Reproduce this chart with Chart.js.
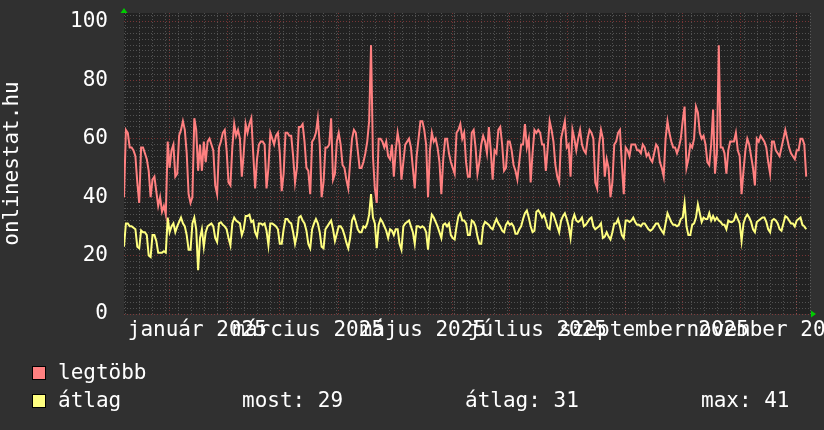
<!DOCTYPE html>
<html>
<head>
<meta charset="utf-8">
<script src="https://cdn.jsdelivr.net/npm/chart.js@4/dist/chart.umd.min.js"></script>
<style>
html,body{margin:0;padding:0;background:#303030;}
#wrap{width:824px;height:430px;position:relative;}
</style>
</head>
<body>
<div id="wrap"><canvas id="c" width="824" height="430"></canvas></div>
<script>
// ---- data (daily samples, Dec 2024 – Dec 2025) ----
const legtobb = [
40,63,62,57,57,56,54,45,38,57,57,55,53,49,40,46,47,42,37,40,35,37,34,59,50,56,58,47,48,61,
63,66,63,55,41,38,40,67,63,49,58,49,59,52,59,60,58,56,44,41,57,59,62,63,56,45,44,57,65,61,
63,60,47,55,65,62,65,67,55,43,53,58,59,59,58,43,50,62,60,58,61,62,55,42,48,62,62,61,61,54,
45,50,64,64,65,59,50,49,41,59,60,62,67,58,40,45,57,57,58,67,46,48,59,62,58,51,50,46,43,52,
60,63,62,56,50,50,52,55,59,66,92,54,43,38,60,60,59,57,59,54,53,58,47,56,62,58,46,52,58,59,
60,57,50,43,54,60,66,66,63,58,40,56,62,59,60,57,52,41,53,60,60,55,52,50,48,62,63,65,60,62,
52,47,47,62,63,57,48,52,58,61,59,55,64,56,46,56,55,63,64,58,49,50,59,59,56,51,49,46,52,58,
58,65,57,60,45,55,63,62,63,62,58,58,49,57,66,63,59,51,47,45,60,63,66,57,58,47,63,60,56,60,
63,58,56,55,60,63,62,60,45,43,58,63,60,47,53,50,40,45,58,59,62,63,51,41,57,56,54,58,58,58,
56,56,55,58,57,54,55,53,52,55,58,57,52,50,47,60,66,62,59,57,57,55,57,60,66,71,50,53,58,57,
60,71,69,62,60,61,58,52,51,58,70,48,55,92,57,57,55,48,56,59,59,59,62,56,54,41,49,56,60,58,
54,50,44,60,59,61,60,59,57,52,48,59,59,56,55,54,57,60,63,60,57,55,54,53,56,56,60,60,58,47
];
const atlag = [
23,31,31,30,30,29.5,29,23,22.5,28.6,28,28,27,20,19.5,27,27,25,21,21,21,21.5,21,33,28,30,31,28,30,31.5,
33,31,30,27,22,22,31,33,29,15,26,29,23,28,30,30.5,31,30,26,24.6,31,31.4,30.5,30,29,26,23.5,31,33,32,
31.5,31,27,29,33.5,33.5,34,31.5,32,28,26.5,31,31,30.5,31,28.5,23.5,31,31,30.5,30,29,24,24,29,32.5,32.5,31.5,31,28,
24,27,33,33.5,32,31,28.5,24,22.5,29,31,32.5,31,28,23,22.5,29,30,31,32,29,25,27.5,30,30,29,27,24.5,22.5,26,
32,33.5,31.5,29,28,28,30,29.5,31,34,41,33,31,22.5,30.5,32.5,31.5,30,28.5,26,29,28.5,27,29,29,24,22,30,31,31.5,
32,30,28,24,30,30,29.5,30,29.5,28,22,30,34,33,31.5,30,28,26,30.5,31,30,31,27,26,25.5,30,33.5,34.5,32,32,
31,27,27,32,31.5,30,26.5,24,24,30,31.5,31,30.5,29.5,29,31,32.5,31,30,28.5,28,30.5,31.5,30.5,31,30,27.5,27.5,29,30,
32.5,34.5,35.4,33,30,28,28.5,35,35.5,34.5,33,34,32,29.5,29,34.5,34,32,30,28,32,33.5,34.5,32.5,30,26,32,34,32,31.5,
32,33,30,30.5,31.5,32.5,33,30,29,29.5,30,31,26,26.5,28,26.5,25.5,28,31,31,32.5,30,27,26,32,32,31.5,32,33,31.5,
30.5,30.5,30,31,31,30,29,28.5,29,30,31,31,29.5,28.5,27.5,31,34.5,33,31.5,30.5,30.5,30,30.5,32.5,33,38,30,27,27,30.5,
31,33,37.5,34.5,31.5,33,32.5,32.5,34.5,32,33.5,32,33,32,31.5,30.5,30.5,29,32,31.5,31.5,32,34,32.5,31,25,31,33,34,33,
31.5,29,28,31.5,32,32.5,33,33,31.5,29,28,32,32.5,32,31,29,28.5,31,33.5,33,32,31,31,30,32,32.5,33,30.5,30,29
];
const seriesNames = ['legtöbb', 'átlag'];
const monthLabels = ['január 2025', 'március 2025', 'május 2025', 'július 2025', 'szeptember 2025', 'november 2025'];
const labelMonths = [0, 2, 4, 6, 8, 10];
const statLabels = ['most: 29', 'átlag: 31', 'max: 41'];
const yAxisTitle = 'onlinestat.hu';
const yMajorValues = [0, 20, 40, 60, 80, 100];

// ---- time helpers ----
const DAY = 86400000;
const startTime = Date.UTC(2024, 11, 8);
const endTime = Date.UTC(2025, 11, 8);
const spanDays = (endTime - startTime) / DAY;
const toDay = t => (t - startTime) / DAY;
const sampleStep = spanDays / 361;

const COLORS = {
  back: '#303030', canvas: '#222222', text: '#ffffff',
  red: '#ff8080', yellow: '#ffff80',
  grid: 'rgba(150,150,150,0.42)', mgrid: 'rgba(190,70,70,0.55)', arrow: '#00cc00'
};
const FONT = "'DejaVu Sans Mono', monospace";

// build x tick list: weekly (Monday) minor, monthly major, mid-month labels
const xTicks = [];
for (let d = 1; d <= spanDays; d += 7) xTicks.push({ value: d, kind: 'week', label: '' });
for (let m = 0; m < 12; m++) xTicks.push({ value: toDay(Date.UTC(2025, m, 1)), kind: 'month', label: '' });
labelMonths.forEach((m, i) => {
  xTicks.push({ value: toDay(Date.UTC(2025, m, 1)) + 15, kind: 'label', label: monthLabels[i] });
});
xTicks.sort((a, b) => a.value - b.value);

const yTicks = [];
for (let v = 0; v <= 102; v += 2) yTicks.push(v);

const toPoints = arr => arr.map((v, i) => ({ x: i * sampleStep, y: v }));

const bgPlugin = {
  id: 'bg',
  beforeDraw(chart) {
    const { ctx, chartArea: a } = chart;
    ctx.save();
    ctx.fillStyle = COLORS.back;
    ctx.fillRect(0, 0, chart.width, chart.height);
    ctx.fillStyle = COLORS.canvas;
    ctx.fillRect(a.left, a.top, a.right - a.left, a.bottom - a.top);
    ctx.restore();
  },
  afterDraw(chart) {
    const { ctx, chartArea: a } = chart;
    ctx.save();
    // arrows
    ctx.fillStyle = COLORS.arrow;
    ctx.beginPath();
    ctx.moveTo(a.left - 3.5, a.top);
    ctx.lineTo(a.left + 3.5, a.top);
    ctx.lineTo(a.left, a.top - 5);
    ctx.closePath(); ctx.fill();
    ctx.beginPath();
    ctx.moveTo(a.right + 1, a.bottom - 3.5);
    ctx.lineTo(a.right + 1, a.bottom + 3.5);
    ctx.lineTo(a.right + 6, a.bottom);
    ctx.closePath(); ctx.fill();
    // legend
    ctx.font = '21px ' + FONT;
    ctx.textBaseline = 'alphabetic';
    ctx.textAlign = 'left';
    const rows = [
      { name: seriesNames[0], color: COLORS.red, y: 366 },
      { name: seriesNames[1], color: COLORS.yellow, y: 394 }
    ];
    rows.forEach(r => {
      ctx.fillStyle = r.color;
      ctx.fillRect(32, r.y, 14, 14);
      ctx.strokeStyle = '#000';
      ctx.lineWidth = 1;
      ctx.strokeRect(32.5, r.y + 0.5, 13, 13);
      ctx.fillStyle = COLORS.text;
      ctx.fillText(r.name, 58, r.y + 13);
    });
    const statX = [242, 465, 701];
    statLabels.forEach((s, i) => ctx.fillText(s, statX[i], 394 + 13));
    ctx.restore();
  }
};

new Chart(document.getElementById('c'), {
  type: 'line',
  data: {
    datasets: [
      { label: seriesNames[0], data: toPoints(legtobb), borderColor: COLORS.red, borderWidth: 2, pointRadius: 0, tension: 0, fill: false },
      { label: seriesNames[1], data: toPoints(atlag), borderColor: COLORS.yellow, borderWidth: 2, pointRadius: 0, tension: 0, fill: false }
    ]
  },
  options: {
    responsive: false,
    animation: false,
    devicePixelRatio: 1,
    layout: { padding: { top: 13, right: 14, left: 0, bottom: 0 } },
    plugins: { legend: { display: false }, tooltip: { enabled: false } },
    scales: {
      x: {
        type: 'linear', min: 0, max: spanDays,
        afterBuildTicks: s => { s.ticks = xTicks.map(t => ({ value: t.value })); },
        afterFit: s => { s.height = 116; s.paddingLeft = 0; s.paddingRight = 0; },
        ticks: {
          autoSkip: false, maxRotation: 0, minRotation: 0, padding: 4,
          color: COLORS.text, font: { family: FONT, size: 21 },
          callback: (v, i) => xTicks[i] ? xTicks[i].label : ''
        },
        grid: {
          drawTicks: false,
          lineWidth: 1,
          color: c => {
            const t = xTicks[c.index];
            if (!t) return 'transparent';
            return t.kind === 'month' ? COLORS.mgrid : (t.kind === 'week' ? COLORS.grid : 'transparent');
          }
        },
        border: { display: false, dash: [1, 2] }
      },
      y: {
        type: 'linear', min: 0, max: 103,
        afterBuildTicks: s => { s.ticks = yTicks.map(v => ({ value: v })); },
        afterFit: s => { s.width = 124; s.paddingTop = 0; s.paddingBottom = 0; },
        ticks: {
          autoSkip: false, padding: 16,
          color: COLORS.text, font: { family: FONT, size: 21 },
          callback: v => (yMajorValues.includes(v) ? String(v) : '')
        },
        grid: {
          drawTicks: false,
          lineWidth: 1,
          color: c => (c.tick && c.tick.value % 20 === 0) ? COLORS.mgrid : COLORS.grid
        },
        border: { display: false, dash: [1, 2] },
        title: {
          display: true, text: yAxisTitle, color: COLORS.text,
          font: { family: FONT, size: 21 }, padding: 0
        }
      }
    }
  },
  plugins: [bgPlugin]
});
</script>
</body>
</html>
